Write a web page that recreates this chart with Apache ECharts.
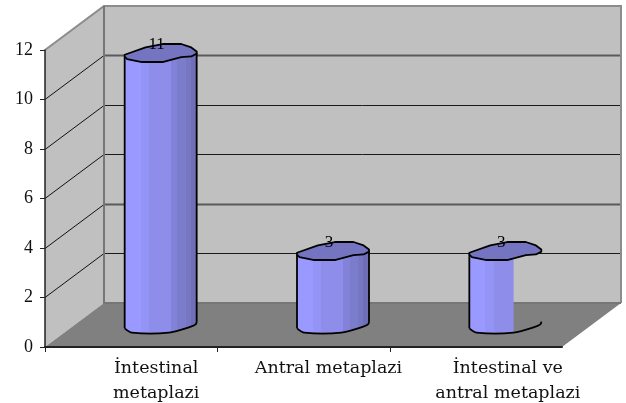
<!DOCTYPE html>
<html>
<head>
<meta charset="UTF-8">
<style>html,body{margin:0;padding:0;background:#fff}#main{width:626px;height:403px}</style>
<script src="https://cdn.jsdelivr.net/npm/echarts@6/dist/echarts.min.js"></script>
</head>
<body>
<div id="main"></div>
<script>
const categories = ['İntestinal\nmetaplazi', 'Antral metaplazi', 'İntestinal ve\nantral metaplazi'];
const values = [11, 3, 3];
const gridTicks = [2, 4, 6, 8, 10];
// these two come out soft and grey on the back wall in the original
const softTicks = [4, 10];
// how much of the body is painted on each bar (third one is cut in the original)
const bodyCut = [1, 1, 0.23];

// 3d look
const depthX = 59, depthY = -44;
const halfW = 36, capH = 9;
// outlines, u = across the bar, v = across the cap
const capTop = [[-1, .22], [-.42, -.59], [.05, -.97], [.57, -.97], [.85, -.59], [1, -.14]];
const capBottom = [[1, .1], [.85, .41], [.57, .48], [.05, 1.03], [-.52, 1.03], [-.93, .7], [-1, .44]];
const floorEdge = [[-1, .37], [-.8, .85], [.23, .85], [.84, .19], [.98, -.1], [1, -.37]];
const facets = [
    [0, '#9999ff'], [.22, '#9494f6'], [.34, '#8e8eea'], [.64, '#8282d8'],
    [.73, '#7c7ccc'], [.85, '#7676c3'], [.92, '#6f6fb8']
];

// 图表加载
function wallsItem(params, api) {
    const front = function (v) { return api.coord([0, v]); };
    const left = params.coordSys.x;
    const right = left + params.coordSys.width;
    const top = front(12)[1];
    const bottom = front(0)[1];
    const backL = left + depthX, backR = right + depthX;
    const backT = top + depthY, backB = bottom + depthY;
    const children = [
        { type: 'polygon', shape: { points: [[backL, backT], [backR, backT], [backR, backB], [backL, backB]] }, style: { fill: '#c0c0c0' } },
        { type: 'polygon', shape: { points: [[left, top], [backL, backT], [backL, backB], [left, bottom]] }, style: { fill: '#c0c0c0' } },
        { type: 'polygon', shape: { points: [[left, bottom], [right, bottom], [backR, backB], [backL, backB]] }, style: { fill: '#808080' } }
    ];
    gridTicks.forEach(function (v) {
        const y = Math.floor(front(v)[1]) + .5;
        const by = Math.floor(front(v)[1] + depthY) + .5;
        children.push({ type: 'polyline', shape: { points: [[left, y], [backL, by]] }, style: { stroke: '#111', lineWidth: 1, fill: null } });
        const soft = softTicks.indexOf(v) >= 0;
        children.push({ type: 'line', shape: { x1: backL, y1: by, x2: backR, y2: by }, style: { stroke: soft ? '#5a5a5a' : '#1a1a1a', lineWidth: soft ? 2 : 1 } });
    });
    children.push({ type: 'polyline', shape: { points: [[left, top], [backL, backT], [backR, backT], [backR, backB]] }, style: { stroke: '#8c8c8c', lineWidth: 2, fill: null } });
    children.push({ type: 'polyline', shape: { points: [[backL, backT], [backL, backB], [backR, backB]] }, style: { stroke: '#767676', lineWidth: 2, fill: null } });
    // no tick at the far end of the x axis, so the axis ticks are off and these stand in
    categories.forEach(function (c, i) {
        const x = Math.round(left + params.coordSys.width * i / categories.length) + .5;
        children.push({ type: 'line', shape: { x1: x, y1: bottom, x2: x, y2: bottom + 5 }, style: { stroke: '#222', lineWidth: 1 } });
    });
    return { type: 'group', children: children };
}

function barItem(params, api) {
    const i = api.value(0);
    const base = api.coord([i, 0]);
    const head = api.coord([i, api.value(1)]);
    const cx = base[0] + depthX / 2;
    const botY = base[1] + depthY / 2;
    const topY = head[1] + depthY / 2;
    const at = function (p, y) { return [cx + p[0] * halfW, y + p[1] * capH]; };
    const cut = bodyCut[i];

    const x0 = cx - halfW, w = halfW * 2;
    const stops = [];
    facets.forEach(function (f, k) {
        stops.push({ offset: f[0], color: f[1] });
        stops.push({ offset: k + 1 < facets.length ? facets[k + 1][0] : 1, color: f[1] });
    });
    const fill = new echarts.graphic.LinearGradient(x0, 0, x0 + w, 0, stops, true);
    const outlineStyle = { stroke: '#000', lineWidth: 1.8, fill: null, lineJoin: 'round' };

    // body is only painted up to the cut, the floor line still runs across
    const bodyPts = [at([-1, .44], topY), at([cut, 0], topY)];
    floorEdge.slice().reverse().forEach(function (p) {
        if (p[0] <= cut) bodyPts.push(at(p, botY));
    });

    const capPts = capTop.concat(capBottom).map(function (p) { return at(p, topY); });
    const children = [
        { type: 'polygon', shape: { points: bodyPts }, style: { fill: fill } },
        { type: 'polyline', shape: { points: floorEdge.map(function (p) { return at(p, botY); }), smooth: .25 }, style: outlineStyle },
        { type: 'polyline', shape: { points: [at([-1, .44], topY), at(floorEdge[0], botY)] }, style: outlineStyle }
    ];
    if (cut >= 1) {
        children.push({ type: 'polyline', shape: { points: [at([1, 0], topY), at([1, -.37], botY)] }, style: outlineStyle });
    }
    children.push({ type: 'polygon', shape: { points: capPts }, style: { fill: '#7474c0', stroke: '#000', lineWidth: 1.8, lineJoin: 'round' } });
    children.push({
        type: 'text',
        style: { text: String(api.value(1)), x: cx - 4, y: topY - 8, align: 'center', verticalAlign: 'middle', fill: '#000', font: '17px "Liberation Serif"' }
    });
    return { type: 'group', children: children };
}

const catLabel = { fontFamily: 'DejaVu Serif', fontSize: 17.5, lineHeight: 25, color: '#111' };

let myChart = echarts.init(document.getElementById('main'), null, { renderer: 'canvas' });
let option = {
    animation: false,
    backgroundColor: '#fff',
    grid: { left: 45, right: 64, top: 50, bottom: 56, outerBoundsMode: 'none' },
    xAxis: {
        type: 'category',
        data: categories,
        z: 10,
        axisLine: { lineStyle: { color: '#222', width: 2 } },
        axisTick: { show: false },
        axisLabel: {
            margin: 9,
            interval: 0,
            formatter: function (value, index) {
                const key = index === 2 ? 'far' : 'near';
                return value.split('\n').map(function (line) { return '{' + key + '|' + line + '}'; }).join('\n');
            },
            rich: {
                near: Object.assign({ padding: [0, 0, 0, 50] }, catLabel),
                far: Object.assign({ padding: [0, 0, 0, 64] }, catLabel)
            }
        },
        splitLine: { show: false }
    },
    yAxis: {
        type: 'value',
        min: 0,
        max: 12,
        interval: 2,
        z: 10,
        axisLine: { show: true, lineStyle: { color: '#222', width: 1.5 } },
        axisTick: { show: true, length: 5, lineStyle: { color: '#222' } },
        axisLabel: { color: '#111', fontFamily: 'Liberation Serif', fontSize: 18, margin: 12 },
        splitLine: { show: false }
    },
    series: [
        { type: 'custom', renderItem: wallsItem, data: [[0, 0]], silent: true, z: 1, clip: false },
        { type: 'custom', renderItem: barItem, data: values.map(function (v, i) { return [i, v]; }), z: 2, clip: false, encode: { x: 0, y: 1 } }
    ]
};
myChart.setOption(option);
</script>
</body>
</html>
